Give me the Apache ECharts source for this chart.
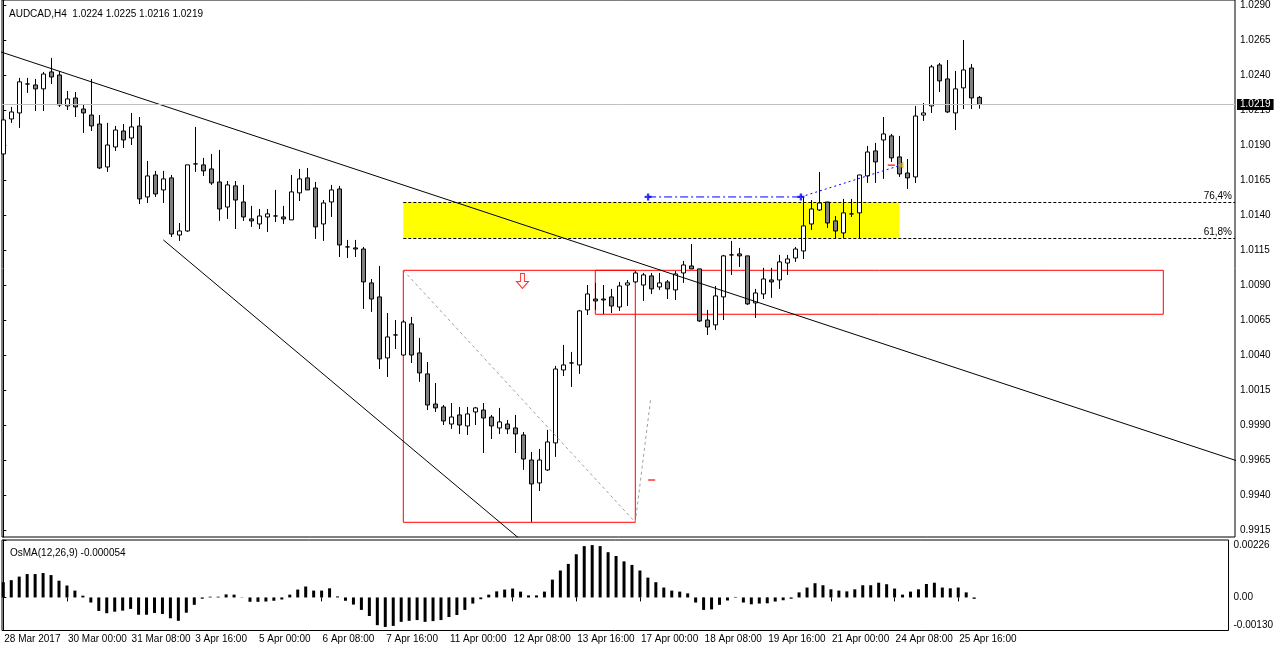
<!DOCTYPE html>
<html>
<head>
<meta charset="utf-8">
<title>AUDCAD,H4</title>
<script src="https://cdn.jsdelivr.net/npm/echarts@6/dist/echarts.min.js"></script>
<style>
html, body { margin: 0; padding: 0; background: #fff; }
#chart { width: 1276px; height: 652px; }
</style>
</head>
<body>
<div id="chart"></div>
<script>
// AUDCAD H4 bars, 28 Mar 16:00 .. 26 Apr 00:00
var opens = [
  1.01836, 1.02086, 1.02129, 1.02336, 1.02329, 1.02301, 1.02422, 1.02400, 1.02179, 1.02236,
  1.02157, 1.02114, 1.02050, 1.01743, 1.01886, 1.02000, 1.01950, 1.02036, 1.01529, 1.01686,
  1.01579, 1.01665, 1.01257, 1.01286, 1.01765, 1.01758, 1.01729, 1.01636, 1.01457, 1.01608,
  1.01493, 1.01372, 1.01336, 1.01386, 1.01393, 1.01386, 1.01365, 1.01558, 1.01665, 1.01593,
  1.01336, 1.01493, 1.01586, 1.01172, 1.01165, 1.01157, 1.00915, 1.00815, 1.00379, 1.00543,
  1.00400, 1.00622, 1.00415, 1.00265, 1.00050, 1.00029, 0.99907, 0.99972, 0.99893, 0.99993,
  1.00007, 0.99957, 0.99879, 0.99907, 0.99879, 0.99829, 0.99650, 0.99486, 0.99579, 0.99772,
  1.00293, 1.00343, 1.00329, 1.00722, 1.00800, 1.00800, 1.00815, 1.00743, 1.00900, 1.00922,
  1.00900, 1.00965, 1.00886, 1.00922, 1.00865, 1.00986, 1.01036, 1.01015, 1.00650, 1.00615,
  1.00815, 1.01115, 1.01122, 1.01108, 1.00772, 1.00836, 1.00936, 1.00936, 1.01057, 1.01093,
  1.01143, 1.01336, 1.01436, 1.01493, 1.01358, 1.01272, 1.01408, 1.01415, 1.01679, 1.01858,
  1.01936, 1.01965, 1.01815, 1.01700, 1.01672, 1.02114, 1.02179, 1.02472, 1.02372, 1.02129,
  1.02308, 1.02450, 1.02240
];
var highs = [
  1.02236, 1.02172, 1.02379, 1.02379, 1.02372, 1.02422, 1.02522, 1.02429, 1.02286, 1.02279,
  1.02186, 1.02372, 1.02114, 1.02058, 1.02036, 1.02050, 1.02129, 1.02100, 1.01786, 1.01715,
  1.01715, 1.01686, 1.01343, 1.01758, 1.02029, 1.01808, 1.01836, 1.01865, 1.01643, 1.01643,
  1.01615, 1.01465, 1.01443, 1.01443, 1.01579, 1.01465, 1.01686, 1.01729, 1.01736, 1.01636,
  1.01507, 1.01615, 1.01608, 1.01222, 1.01222, 1.01172, 1.00943, 1.01036, 1.00700, 1.00650,
  1.00650, 1.00672, 1.00522, 1.00350, 1.00200, 1.00043, 1.00057, 1.00029, 1.00029, 1.00029,
  1.00057, 0.99972, 1.00022, 0.99936, 0.99972, 0.99850, 0.99708, 0.99729, 0.99865, 1.00322,
  1.00472, 1.00422, 1.00722, 1.00900, 1.00915, 1.00900, 1.00872, 1.00922, 1.00936, 1.01000,
  1.00986, 1.00986, 1.00986, 1.00936, 1.01000, 1.01072, 1.01193, 1.01015, 1.00722, 1.00893,
  1.01115, 1.01215, 1.01165, 1.01108, 1.00872, 1.01022, 1.01022, 1.01115, 1.01115, 1.01172,
  1.01529, 1.01507, 1.01708, 1.01493, 1.01393, 1.01515, 1.01515, 1.01686, 1.01893, 1.01915,
  1.02100, 1.01979, 1.01965, 1.01800, 1.02179, 1.02200, 1.02472, 1.02486, 1.02507, 1.02429,
  1.02650, 1.02479, 1.02250
];
var lows = [
  1.01829, 1.02058, 1.02022, 1.02272, 1.02143, 1.02143, 1.02336, 1.02172, 1.02150, 1.02100,
  1.01986, 1.02000, 1.01729, 1.01708, 1.01858, 1.01879, 1.01900, 1.01478, 1.01486, 1.01529,
  1.01486, 1.01243, 1.01215, 1.01279, 1.01708, 1.01679, 1.01615, 1.01358, 1.01372, 1.01300,
  1.01358, 1.01315, 1.01300, 1.01279, 1.01350, 1.01336, 1.01365, 1.01500, 1.01579, 1.01229,
  1.01215, 1.01386, 1.01100, 1.01093, 1.01100, 1.00729, 1.00708, 1.00300, 1.00243, 1.00443,
  1.00393, 1.00343, 1.00208, 1.00007, 0.99993, 0.99900, 0.99872, 0.99836, 0.99829, 0.99900,
  0.99700, 0.99800, 0.99836, 0.99836, 0.99700, 0.99579, 0.99208, 0.99429, 0.99572, 0.99672,
  1.00250, 1.00172, 1.00265, 1.00686, 1.00722, 1.00693, 1.00700, 1.00715, 1.00750, 1.00915,
  1.00786, 1.00836, 1.00865, 1.00800, 1.00793, 1.00915, 1.01015, 1.00636, 1.00543, 1.00579,
  1.00650, 1.00972, 1.01029, 1.00757, 1.00665, 1.00800, 1.00808, 1.00872, 1.00972, 1.01065,
  1.01086, 1.01293, 1.01429, 1.01308, 1.01236, 1.01236, 1.01386, 1.01236, 1.01629, 1.01629,
  1.01658, 1.01779, 1.01672, 1.01586, 1.01629, 1.02072, 1.02129, 1.02279, 1.02129, 1.02007,
  1.02157, 1.02157, 1.02160
];
var closes = [
  1.02079, 1.02136, 1.02351, 1.02336, 1.02301, 1.02407, 1.02386, 1.02186, 1.02229, 1.02172,
  1.02129, 1.02036, 1.01736, 1.01900, 1.02007, 1.01936, 1.02029, 1.01515, 1.01679, 1.01550,
  1.01658, 1.01264, 1.01286, 1.01758, 1.01765, 1.01715, 1.01629, 1.01443, 1.01615, 1.01507,
  1.01386, 1.01358, 1.01393, 1.01408, 1.01393, 1.01372, 1.01565, 1.01658, 1.01579, 1.01315,
  1.01486, 1.01579, 1.01186, 1.01172, 1.01157, 1.00922, 1.00800, 1.00372, 1.00529, 1.00543,
  1.00636, 1.00400, 1.00272, 1.00043, 1.00022, 0.99929, 0.99957, 0.99900, 0.99979, 1.00022,
  0.99950, 0.99893, 0.99922, 0.99872, 0.99836, 0.99657, 0.99479, 0.99650, 0.99779, 1.00300,
  1.00329, 1.00343, 1.00715, 1.00836, 1.00786, 1.00793, 1.00750, 1.00893, 1.00915, 1.00986,
  1.00972, 1.00872, 1.00915, 1.00872, 1.00979, 1.01043, 1.01015, 1.00643, 1.00600, 1.00822,
  1.01108, 1.01115, 1.01108, 1.00765, 1.00843, 1.00943, 1.00922, 1.01065, 1.01086, 1.01157,
  1.01322, 1.01443, 1.01486, 1.01343, 1.01286, 1.01415, 1.01408, 1.01686, 1.01850, 1.01779,
  1.01979, 1.01808, 1.01693, 1.01665, 1.02107, 1.02129, 1.02458, 1.02358, 1.02136, 1.02301,
  1.02436, 1.02236, 1.02190
];
// OsMA(12,26,9) histogram, one value per bar
var osma = [
  0.00060, 0.00068, 0.00082, 0.00092, 0.00092, 0.00096, 0.00088, 0.00066, 0.00047, 0.00027,
  0.00007, -0.00020, -0.00053, -0.00062, -0.00056, -0.00052, -0.00045, -0.00068, -0.00068, -0.00061,
  -0.00065, -0.00082, -0.00092, -0.00060, -0.00029, -0.00005, 0.00003, 0.00003, 0.00012, 0.00011,
  -0.00001, -0.00017, -0.00017, -0.00016, -0.00013, -0.00008, 0.00011, 0.00031, 0.00043, 0.00027,
  0.00027, 0.00036, 0.00004, -0.00013, -0.00028, -0.00049, -0.00073, -0.00109, -0.00116, -0.00112,
  -0.00096, -0.00092, -0.00089, -0.00096, -0.00093, -0.00089, -0.00077, -0.00069, -0.00049, -0.00024,
  -0.00007, 0.00011, 0.00024, 0.00031, 0.00035, 0.00023, 0.00008, 0.00008, 0.00023, 0.00070,
  0.00106, 0.00132, 0.00170, 0.00202, 0.00206, 0.00202, 0.00178, 0.00163, 0.00142, 0.00128,
  0.00106, 0.00078, 0.00060, 0.00039, 0.00027, 0.00023, 0.00016, -0.00020, -0.00049, -0.00047,
  -0.00029, -0.00012, 0.00002, -0.00020, -0.00027, -0.00024, -0.00023, -0.00016, -0.00011, -0.00005,
  0.00020, 0.00039, 0.00056, 0.00048, 0.00032, 0.00027, 0.00024, 0.00032, 0.00048, 0.00048,
  0.00058, 0.00052, 0.00035, 0.00011, 0.00023, 0.00032, 0.00053, 0.00058, 0.00039, 0.00036,
  0.00039, 0.00020, -0.000054
];

var timeLabels = ['28 Mar 2017', '30 Mar 00:00', '31 Mar 08:00', '3 Apr 16:00', '5 Apr 00:00',
  '6 Apr 08:00', '7 Apr 16:00', '11 Apr 00:00', '12 Apr 08:00', '13 Apr 16:00', '17 Apr 00:00',
  '18 Apr 08:00', '19 Apr 16:00', '21 Apr 00:00', '24 Apr 08:00', '25 Apr 16:00'];
var labelBars = [0, 8, 16, 24, 32, 40, 48, 56, 64, 72, 80, 88, 96, 104, 112, 120];
var priceTicks = [0.9915, 0.9940, 0.9965, 0.9990, 1.0015, 1.0040, 1.0065, 1.0090,
  1.0115, 1.0140, 1.0165, 1.0190, 1.0215, 1.0240, 1.0265, 1.0290];
var osmaTicks = [-0.0013, 0, 0.00226];
var osmaTickLabels = ['-0.00130', '0.00', '0.00226'];

var lastPrice = 1.0219;
var title = 'AUDCAD,H4  1.0224 1.0225 1.0216 1.0219';
var osmaTitle = 'OsMA(12,26,9) -0.000054';

// objects drawn on the chart: [bar, price]
var trendTop = [[-1, 1.02578], [155, 0.99629]];
var trendLow = [[20, 1.01222], [70, 0.98825]];
var fibLevels = [{ name: '76,4%', price: 1.01491 }, { name: '61,8%', price: 1.01234 }];
var fibZone = [[50, 1.01491], [112, 1.01234]];
var fibBase = [[80.6, 1.01529], [99.7, 1.01529]];
var fibLink = [[99.7, 1.01529], [112.1, 1.01754]];
var redBoxes = [[[50, 1.01005], [79, 0.99205]], [[74, 1.01005], [145, 1.00691]]];
var grayDiag = [[50, 1.01005], [79, 0.99205]];
var grayUp = [[79, 0.99205], [80.93, 1.00091]];
var downArrow = [[64.9, 1.00929]];
var redDashes = [[81.04, 0.99507], [111.0, 1.01756]];
var goldMark = [[112.15, 1.01756]];

var xMin = -0.1625, xMax = 153.9625;
var font = 'Liberation Sans';

var candles = opens.map(function (o, i) {
  return [i, o, closes[i], lows[i], highs[i]];
});
var osmaData = osma.map(function (v, i) { return [i, v]; });

var chart = echarts.init(document.getElementById('chart'));

function lineSeries(pts, color, type, z) {
  return {
    type: 'line', data: pts, xAxisIndex: 0, yAxisIndex: 0, symbol: 'none',
    silent: true, z: z || 4, clip: true,
    lineStyle: { color: color, width: 1, type: type || 'solid' }
  };
}

var option = {
  animation: false,
  backgroundColor: '#fff',
  textStyle: { fontFamily: font },
  title: [
    { text: title, left: 4, top: 4, textStyle: { fontSize: 10, fontWeight: 'normal', color: '#000', fontFamily: font } },
    { text: osmaTitle, left: 5, top: 543, textStyle: { fontSize: 10, fontWeight: 'normal', color: '#000', fontFamily: font } }
  ],
  grid: [
    { left: 2, top: 0, width: 1233, height: 537, show: true, borderColor: '#000', borderWidth: 1, backgroundColor: '#fff' },
    { left: 2, top: 540, width: 1233, height: 90.5, show: true, borderColor: '#000', borderWidth: 1, backgroundColor: '#fff' }
  ],
  xAxis: [
    { type: 'value', gridIndex: 0, min: xMin, max: xMax,
      axisLine: { show: false }, axisTick: { show: false }, axisLabel: { show: false }, splitLine: { show: false } },
    { type: 'value', gridIndex: 1, min: xMin, max: xMax,
      axisLine: { show: false }, splitLine: { show: false },
      axisTick: { show: true, length: 4, lineStyle: { color: '#000' }, customValues: labelBars },
      axisLabel: {
        customValues: labelBars, align: 'left', margin: 4, padding: [0, 0, 0, 1],
        fontSize: 10, color: '#000', fontFamily: font,
        formatter: function (v) {
          var k = labelBars.indexOf(Math.round(v));
          return k >= 0 ? timeLabels[k] : '';
        }
      } }
  ],
  yAxis: [
    { type: 'value', gridIndex: 0, position: 'right', min: 0.991, max: 1.029357, scale: true,
      axisLine: { show: true, lineStyle: { color: '#000' } },
      splitLine: { show: false },
      axisTick: { show: true, length: 3, inside: false, lineStyle: { color: '#000' }, customValues: priceTicks },
      axisLabel: { customValues: priceTicks, margin: 5, fontSize: 10, color: '#000', fontFamily: font,
        formatter: function (v) { return v.toFixed(4); } } },
    { type: 'value', gridIndex: 1, position: 'right', min: -0.0013, max: 0.00226,
      axisLine: { show: true, lineStyle: { color: '#000' } },
      splitLine: { show: false },
      axisTick: { show: true, length: 3, lineStyle: { color: '#000' }, customValues: osmaTicks },
      axisLabel: { customValues: osmaTicks, margin: 5, fontSize: 10, color: '#000', fontFamily: font,
        verticalAlignMaxLabel: 'top', verticalAlignMinLabel: 'bottom',
        formatter: function (v) {
          for (var i = 0; i < osmaTicks.length; i++) {
            if (Math.abs(osmaTicks[i] - v) < 1e-7) return osmaTickLabels[i];
          }
          return '';
        } } }
  ],
  series: [
    // yellow fibo zone with its level lines, plus the last-price line, kept under the candles
    {
      type: 'line', data: [], xAxisIndex: 0, yAxisIndex: 0, z: 1, silent: true,
      markArea: {
        silent: true,
        itemStyle: { color: '#ffff00' },
        data: [[{ coord: fibZone[0] }, { coord: fibZone[1] }]]
      },
      markLine: {
        silent: true, symbol: 'none',
        lineStyle: { color: '#000', width: 1, type: [3, 2] },
        label: { show: true, position: 'insideEndTop', distance: [3, 1], fontSize: 10, color: '#000', fontFamily: font,
          formatter: function (p) { return p.name; } },
        data: fibLevels.map(function (f) {
          return [{ coord: [fibZone[0][0], f.price], name: f.name }, { coord: [xMax, f.price] }];
        })
      }
    },
    {
      type: 'line', data: [], xAxisIndex: 0, yAxisIndex: 0, z: 1, silent: true,
      markLine: {
        silent: true, symbol: 'none',
        lineStyle: { color: '#c0c0c0', width: 1, type: 'solid' },
        label: { show: true, position: 'end', distance: 2, backgroundColor: '#000', color: '#fff',
          padding: [1, 3, 0, 3], fontSize: 10, fontFamily: font,
          formatter: function () { return lastPrice.toFixed(4); } },
        data: [[{ coord: [xMin, lastPrice] }, { coord: [xMax, lastPrice] }]]
      }
    },
    {
      type: 'candlestick', name: 'AUDCAD', xAxisIndex: 0, yAxisIndex: 0, z: 2,
      data: candles, encode: { x: 0, y: [1, 2, 3, 4] },
      barWidth: 4, silent: true,
      itemStyle: { color: '#fff', color0: '#808080', borderColor: '#000', borderColor0: '#000', borderColorDoji: '#000', borderWidth: 1 }
    },
    lineSeries(trendTop, '#000'),
    lineSeries(trendLow, '#000'),
    lineSeries(grayDiag, '#a0a0a0', [3, 3]),
    lineSeries(grayUp, '#a0a0a0', [3, 3]),
    lineSeries(fibBase, '#0000ff', [8, 3, 2, 3]),
    lineSeries(fibLink, '#0000ff', [2, 3]),
    // red rectangles
    {
      type: 'line', data: [], xAxisIndex: 0, yAxisIndex: 0, z: 4, silent: true,
      markArea: {
        silent: true,
        itemStyle: { color: 'rgba(0,0,0,0)', borderColor: '#ff0000', borderWidth: 1 },
        data: redBoxes.map(function (b) { return [{ coord: b[0] }, { coord: b[1] }]; })
      }
    },
    {
      type: 'scatter', data: fibBase, xAxisIndex: 0, yAxisIndex: 0, z: 5, silent: true,
      symbol: 'path://M2,0H4V2H6V4H4V6H2V4H0V2H2Z', symbolSize: 7,
      itemStyle: { color: '#0000ff' }
    },
    {
      type: 'scatter', data: downArrow, xAxisIndex: 0, yAxisIndex: 0, z: 5, silent: true,
      symbol: 'path://M4,0L8,0L8,8L12,8L6,15L0,8L4,8Z', symbolSize: [12, 15],
      itemStyle: { color: '#fff4f4', borderColor: '#ff0000', borderWidth: 1 }
    },
    {
      type: 'scatter', data: redDashes, xAxisIndex: 0, yAxisIndex: 0, z: 5, silent: true,
      symbol: 'rect', symbolSize: [7, 1.5], itemStyle: { color: '#ff0000' }
    },
    {
      type: 'scatter', data: goldMark, xAxisIndex: 0, yAxisIndex: 0, z: 5, silent: true,
      symbol: 'triangle', symbolSize: [7, 6], symbolRotate: 90, itemStyle: { color: '#daa520' }
    },
    {
      type: 'bar', name: 'OsMA', xAxisIndex: 1, yAxisIndex: 1, data: osmaData,
      barWidth: 3, silent: true, itemStyle: { color: '#000' }
    }
  ]
};

chart.setOption(option);
</script>
</body>
</html>
